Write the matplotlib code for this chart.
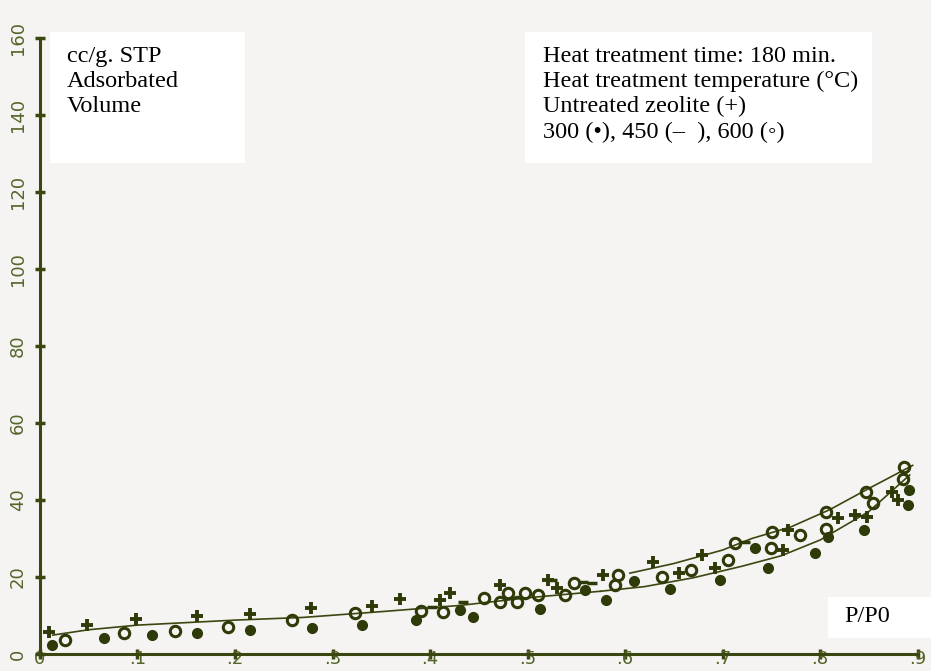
import matplotlib
matplotlib.use("Agg")
import matplotlib.pyplot as plt

# ---- data (P/P0, cc/g STP) ----
p_300 = [0.012, 0.066, 0.115, 0.161, 0.215, 0.279, 0.330, 0.386, 0.431, 0.444, 0.513, 0.559,
         0.581, 0.609, 0.646, 0.697, 0.733, 0.747, 0.795, 0.808, 0.845, 0.890, 0.891]
v_300 = [2.3, 4.2, 4.9, 5.5, 6.2, 6.7, 7.5, 8.8, 11.4, 9.7, 11.6, 16.6,
         14.0, 19.0, 16.8, 19.2, 27.5, 22.3, 26.2, 30.5, 32.2, 38.7, 42.6]

p_600 = [0.026, 0.086, 0.138, 0.193, 0.258, 0.323, 0.391, 0.413, 0.455, 0.472, 0.480, 0.489,
         0.497, 0.511, 0.538, 0.548, 0.590, 0.593, 0.638, 0.668, 0.706, 0.713, 0.750, 0.751,
         0.779, 0.806, 0.806, 0.847, 0.854, 0.885, 0.886]
v_600 = [3.6, 5.5, 6.0, 7.1, 8.8, 10.6, 11.2, 10.8, 14.5, 13.6, 15.8, 13.6,
         15.8, 15.3, 15.3, 18.5, 17.9, 20.5, 20.1, 21.8, 24.4, 28.8, 27.5, 31.8,
         30.9, 37.0, 32.6, 42.2, 39.3, 45.4, 48.7]

p_raw = [0.009, 0.048, 0.098, 0.161, 0.215, 0.278, 0.341, 0.369, 0.410, 0.421, 0.472, 0.521,
         0.530, 0.577, 0.629, 0.655, 0.679, 0.692, 0.762, 0.767, 0.818, 0.836, 0.848, 0.874, 0.880]
v_raw = [5.8, 7.5, 9.1, 9.9, 10.4, 11.9, 12.5, 14.3, 14.0, 15.9, 17.9, 19.2,
         17.1, 20.5, 24.0, 21.1, 25.7, 22.3, 27.0, 32.2, 35.2, 36.1, 35.7, 42.2, 40.0]

p_450 = [0.402, 0.434, 0.525, 0.557, 0.566, 0.723]
v_450 = [12.3, 13.6, 19.2, 18.8, 18.5, 29.2]

# hand drawn curves
curve_common_p = [0.013, 0.05, 0.1, 0.2, 0.27, 0.35, 0.43, 0.5, 0.575]
curve_common_v = [4.9, 6.3, 7.5, 8.8, 9.5, 11.0, 12.6, 14.6, 16.3]
curve_low_p = [0.575, 0.62, 0.67, 0.72, 0.76, 0.8, 0.85, 0.892]
curve_low_v = [16.3, 17.5, 19.8, 22.8, 25.5, 29.6, 37.0, 46.5]
curve_up_p = [0.605, 0.65, 0.7, 0.73, 0.77, 0.81, 0.85, 0.895]
curve_up_v = [21.0, 23.5, 27.0, 30.0, 33.0, 37.5, 43.0, 49.0]

x_ticks = [0, 0.1, 0.2, 0.3, 0.4, 0.5, 0.6, 0.7, 0.8, 0.9]
x_labels = ["0", ".1", ".2", ".3", ".4", ".5", ".6", ".7", ".8", ".9"]
y_ticks = [0, 20, 40, 60, 80, 100, 120, 140, 160]
y_labels = ["0", "20", "40", "60", "80", "100", "120", "140", "160"]

INK = "#3b4710"
LABEL_INK = "#55652a"
PAPER = "#f6f4f2"
SERIF = ["Liberation Serif", "DejaVu Serif", "DejaVu Sans"]

fig = plt.figure(figsize=(9.31, 6.71), dpi=100)
fig.patch.set_facecolor(PAPER)
ax = fig.add_axes([0, 0, 1, 1])
ax.set_facecolor(PAPER)
ax.set_xlim(-0.041, 0.9138)
ax.set_ylim(-4.42, 169.9)

for side in ("top", "right"):
    ax.spines[side].set_visible(False)
ax.spines["left"].set_position(("data", 0))
ax.spines["bottom"].set_position(("data", 0))
ax.spines["left"].set_bounds(0, 160)
ax.spines["bottom"].set_bounds(0, 0.9)
for side in ("left", "bottom"):
    ax.spines[side].set_color(INK)
    ax.spines[side].set_linewidth(2.2)

ax.set_xticks(x_ticks)
ax.set_xticklabels(x_labels)
ax.set_yticks(y_ticks)
ax.set_yticklabels(y_labels, rotation=90, va="center")
ax.tick_params(axis="both", direction="inout", length=7, width=2.5, color=INK,
               labelcolor=LABEL_INK)
ax.tick_params(axis="x", pad=-6.5, labelsize=13)
ax.tick_params(axis="y", pad=6, labelsize=13)

# curves
ax.plot(curve_common_p, curve_common_v, color=INK, lw=1.2)
ax.plot(curve_low_p, curve_low_v, color=INK, lw=1.2)
ax.plot(curve_up_p, curve_up_v, color=INK, lw=1.2)

# points
ax.plot(p_300, v_300, "o", color="#2e3a08", ms=7, zorder=3)
ax.plot(p_600, v_600, "o", mfc="none", mec="#2e3a08", mew=2.2, ms=7.5, zorder=3)
ax.plot(p_raw, v_raw, "+", color="#2e3a08", mew=2.8, ms=8, zorder=3)
ax.plot(p_450, v_450, "_", color="#2e3a08", mew=2.5, ms=7, zorder=3)

# annotation boxes
ax.add_patch(plt.Rectangle((50 / 931, 1 - 163 / 671), 195 / 931, 131 / 671,
                           transform=ax.transAxes, fc="white", ec="none", zorder=1))
ax.text(67 / 931, 1 - 46 / 671, "cc/g. STP\nAdsorbated\nVolume", transform=ax.transAxes,
        family=SERIF, fontsize=17.5, va="top", ha="left", linespacing=1.25, zorder=2)

ax.add_patch(plt.Rectangle((525 / 931, 1 - 163 / 671), 347 / 931, 131 / 671,
                           transform=ax.transAxes, fc="white", ec="none", zorder=1))
ax.text(543 / 931, 1 - 46 / 671,
        "Heat treatment time: 180 min.\nHeat treatment temperature (°C)\n"
        "Untreated zeolite (+)\n300 (•), 450 (–  ), 600 (◦)",
        transform=ax.transAxes, family=SERIF, fontsize=17.5, va="top", ha="left",
        linespacing=1.25, zorder=2)

ax.add_patch(plt.Rectangle((828 / 931, 1 - 638 / 671), 103 / 931, 41 / 671,
                           transform=ax.transAxes, fc="white", ec="none", zorder=1))
ax.text(867 / 931, 1 - 617 / 671, "P/P0", transform=ax.transAxes, family=SERIF,
        fontsize=17.5, va="center", ha="center", zorder=2)

fig.savefig("out.png", dpi=100, facecolor=PAPER)
